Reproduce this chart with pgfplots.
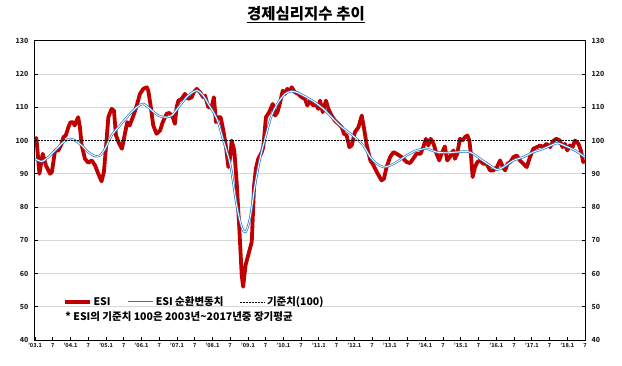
\documentclass[border=0pt]{standalone}
\usepackage{pgfplots}
\pgfplotsset{compat=1.18}
\usepackage{fontspec}
\setmainfont{Noto Sans CJK KR}
\definecolor{esired}{RGB}{192,0,0}
\definecolor{esiblue}{RGB}{40,120,200}
\definecolor{gridgray}{RGB}{215,215,215}
\begin{document}
\begin{tikzpicture}
\useasboundingbox (0pt,0pt) rectangle (622pt,365pt);
\node[font=\fontsize{15.5}{17}\selectfont\bfseries] at (306pt,350pt) {\underline{경제심리지수 추이}};
% grid layer
\begin{axis}[at={(35pt,25pt)}, anchor=south west, width=550pt, height=299.3pt, scale only axis,
  xmin=0, xmax=186, ymin=40, ymax=130,
  xtick=\empty, ytick={50,60,70,80,90,110,120}, yticklabels={},
  ymajorgrids, grid style={gridgray, line width=0.9pt},
  major tick length=0pt, axis line style={draw=none}]
\end{axis}
% main
\begin{axis}[at={(35pt,25pt)}, anchor=south west, width=550pt, height=299.3pt, scale only axis,
  xmin=0, xmax=186, ymin=40, ymax=130,
  axis line style={black, line width=1pt},
  tick style={black, line width=0.8pt}, tick align=inside, major tick length=3pt,
  xtick pos=left, ytick pos=both,
  xtick={0,6,...,186},
  xticklabels={'03.1,7,'04.1,7,'05.1,7,'06.1,7,'07.1,7,'08.1,7,'09.1,7,'10.1,7,'11.1,7,'12.1,7,'13.1,7,'14.1,7,'15.1,7,'16.1,7,'17.1,7,'18.1,7},
  xticklabel style={font=\fontsize{5.5}{6}\selectfont\bfseries, text=black!85, yshift=0pt},
  ytick={40,50,...,130},
  yticklabels={40,50,60,70,80,90,100,110,120,130},
  yticklabel style={font=\fontsize{7}{8}\selectfont\bfseries, text=black!85, xshift=-3pt},
  legend columns=3,
  legend style={draw=none, fill=none, at={(0.05,0.127)}, anchor=west,
    font=\fontsize{10.5}{11}\selectfont\bfseries, inner sep=0pt,
    /tikz/every even column/.append style={column sep=14pt}},
  legend image code/.code={\draw[#1] (0pt,0pt) -- (25pt,0pt);},
]
\addplot[esired, line width=3.8pt, line join=round] coordinates {
(0,101) (0.5,100.5) (1.5,90) (2.6,96) (3.7,92.5) (5.1,90) (5.7,90.5) (6.8,97) (7.9,97) (9,99) (9.6,101) (10.4,101.5) (11.3,104) (12,105.5) (12.9,105.5) (13.4,104.5) (14.6,107) (15.2,104) (15.8,98.5) (16.9,94.5) (18,93.3) (19.2,94) (20.3,92.5) (21.4,90) (22.5,87.7) (23.3,90.5) (24.2,100) (24.8,107) (25.9,109.5) (26.7,109) (27.4,101.5) (28.5,99) (29.4,97.5) (30.4,102) (31.2,105.5) (32,104.5) (33.3,107.5) (34.4,110.5) (35.5,114) (36.6,115.5) (37.8,116) (38.3,115) (39.1,110.5) (40,104.5) (41.1,102) (42.3,103) (43.2,105.5) (44.5,108) (45.4,108.3) (46.6,107) (47.3,105) (47.9,110) (48.5,112) (49.6,112.5) (50.7,114) (51.8,112.5) (53,113) (53.7,114.5) (54.7,115.5) (55.8,114.5) (56.9,113) (57.5,113.5) (58.6,110) (59.7,110) (60.5,113) (61.2,105.5) (61.9,107) (62.8,107) (63.7,103) (64.6,98) (65.4,92) (66.1,95.5) (66.5,100) (67.4,97) (68.2,87.5) (69.1,73.5) (69.9,59.5) (70.4,56) (71.2,62.5) (72.1,65.5) (73.3,69.5) (74.1,86.5) (74.7,91.5) (75.5,94.5) (76.7,96.5) (77.2,98) (78.1,107) (79.2,108.5) (80.4,111) (81.2,107.5) (82,108.5) (82.9,111.5) (83.8,115) (84.6,114) (85.3,115.5) (86.2,115) (86.8,116) (87.9,114.5) (89,114) (90.2,113) (91.3,112.5) (92.1,110.5) (93,112) (94.1,110.5) (95,111) (95.8,109.5) (96.4,112) (97.3,108.5) (98.4,112) (99.2,109.5) (100.3,107.5) (101.4,106) (102.6,105) (103.7,104) (104.5,102) (105.4,101.5) (106.3,98) (107.1,98.5) (108.2,102.5) (109.4,104) (110.5,107.5) (111.3,103.5) (112.2,98.5) (113.4,94) (114.5,92.5) (115.6,90.5) (117.2,88) (118,88.5) (118.9,92) (120.1,95) (121.2,96.5) (122.3,96) (124,95) (125.7,93.5) (126.8,93.2) (127.9,94.5) (129,96) (130.4,96) (131.3,98) (132.2,100.5) (133,98.5) (133.8,100.5) (134.8,99) (135.8,96) (136.7,94) (137.5,96) (138.6,98.2) (139.4,94) (140.3,95) (141.5,97) (142,94.5) (142.8,96) (143.7,100.5) (144.6,100) (145.4,101) (146.2,101.5) (146.9,100) (147.4,96) (148,89) (148.8,92) (149.6,93.5) (150.5,94) (151.6,93) (152.7,93) (153.9,91) (155,91) (156.2,92) (157.3,94) (158.2,92) (159,91) (159.8,93) (160.7,93.5) (161.8,95) (162.9,95.5) (164,94) (165.1,93) (166.3,92) (167.4,95) (168.5,97.5) (169.7,98) (170.8,98.5) (171.9,98) (173,99) (174.2,98) (175.2,99.8) (176.3,100.5) (177.5,100) (178.4,98) (179.2,99) (180,97) (180.9,98.5) (181.8,98) (182.6,100) (183.8,99) (184.6,97) (185.4,93.5) (186,94)
};
\addlegendentry{ESI}
\addplot[draw=esiblue, line width=0.7pt, double=white, double distance=0.9pt, smooth] coordinates {
(0,94.5) (2.3,93.7) (4.5,95) (6.8,97) (9.6,99.5) (11.8,100.5) (13.5,100) (15.8,98.5) (18,96.5) (20.3,95.3) (22,95.5) (23.7,97.5) (25.9,101.5) (28.7,104.5) (31.6,107.5) (34.4,110) (36.6,111) (38.9,109.5) (41.7,107.5) (44,107) (46.2,107.5) (49,110.5) (51.8,113.5) (54.7,115) (56.9,113.5) (58.6,111) (61.5,106.5) (63.7,100) (66.1,92.5) (68.2,80.5) (69.9,74) (71.2,72.5) (72.7,76.5) (74.4,86.5) (76.1,94.5) (77.8,100.5) (80,107.5) (82.3,111.5) (84.6,114) (86.8,114.8) (89,114.3) (91.8,113) (94.6,111.5) (97.5,109.5) (100.3,107) (103.1,104.5) (106,102.5) (108.8,100.5) (111,98.5) (113.4,95) (115.6,93) (117.9,92) (120.1,92.5) (122.3,93.5) (125.7,95.5) (129,97) (132.4,97.5) (135.8,96.5) (139.2,96.3) (142.6,96.5) (146,96.7) (148.2,96) (150.5,94.5) (153.9,92.5) (156.2,91.2) (158.4,92) (161.8,94) (165.1,95) (168.5,96.5) (171.9,97.5) (175.2,98.8) (176.9,99.2) (179.7,98.2) (182.6,97) (186,95)
};
\addlegendentry{ESI 순환변동치}
\addplot[black, densely dotted, line width=0.5pt] coordinates {(0,100) (186,100)};
\addlegendentry{기준치(100)}
\node[anchor=west, font=\fontsize{10.5}{11}\selectfont\bfseries, inner sep=0pt] at (rel axis cs:0.055,0.077) {* ESI의 기준치 100은 2003년\textasciitilde 2017년중 장기평균};
\end{axis}
% right labels
\begin{axis}[at={(35pt,25pt)}, anchor=south west, width=550pt, height=299.3pt, scale only axis,
  xmin=0, xmax=186, ymin=40, ymax=130,
  xtick=\empty, axis line style={draw=none}, major tick length=0pt,
  ytick={40,50,...,130}, yticklabel pos=right,
  yticklabels={40,50,60,70,80,90,100,110,120,130},
  yticklabel style={font=\fontsize{7}{8}\selectfont\bfseries, text=black!85, xshift=3pt}]
\end{axis}
\end{tikzpicture}
\end{document}
